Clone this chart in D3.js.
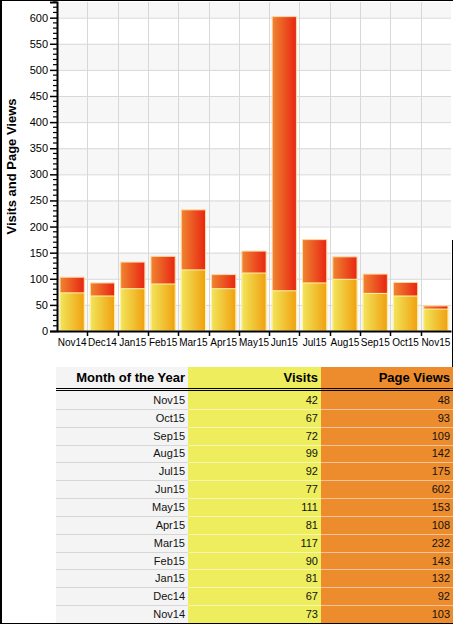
<!DOCTYPE html>
<html>
<head>
<meta charset="utf-8">
<script src="https://cdn.jsdelivr.net/npm/d3@7"></script>
<style>
  body { margin: 0; background: #fff; font-family: "Liberation Sans", Arial, sans-serif; }
  svg { display: block; }
</style>
</head>
<body>
<div id="chart"></div>
<script>
// data
const months = ["Nov14", "Dec14", "Jan15", "Feb15", "Mar15", "Apr15", "May15", "Jun15", "Jul15", "Aug15", "Sep15", "Oct15", "Nov15"];
const visits = [73, 67, 81, 90, 117, 81, 111, 77, 92, 99, 72, 67, 42];
const pageViews = [103, 92, 132, 143, 232, 108, 153, 602, 175, 142, 109, 93, 48];
const yTicks = [0, 50, 100, 150, 200, 250, 300, 350, 400, 450, 500, 550, 600];
const tableHeaders = ["Month of the Year", "Visits", "Page Views"];

const W = 453, H = 624;
const svg = d3.select("#chart").append("svg")
    .attr("width", W)
    .attr("height", H);

// plot area
const plot = { left: 57, right: 451, top: 2, bottom: 331 };

const x = d3.scaleBand()
    .domain(months)
    .range([plot.left, plot.right])
    .padding(0);

const y = d3.scaleLinear()
    .domain([0, 630])
    .range([plot.bottom, plot.top]);

// gradients for bars
const defs = svg.append("defs");
const gv = defs.append("linearGradient").attr("id", "gVisits");
gv.append("stop").attr("offset", "0%").attr("stop-color", "#f2e55a");
gv.append("stop").attr("offset", "100%").attr("stop-color", "#f0a010");
const gp = defs.append("linearGradient").attr("id", "gViews");
gp.append("stop").attr("offset", "0%").attr("stop-color", "#ef8530");
gp.append("stop").attr("offset", "100%").attr("stop-color", "#e82512");

// alternating bands
const bands = d3.range(0, 630, 50);
svg.append("g").selectAll("rect")
    .data(bands.filter((d, i) => i % 2 === 0))
    .enter().append("rect")
    .attr("x", plot.left)
    .attr("width", plot.right - plot.left)
    .attr("y", d => y(Math.min(d + 50, 630)))
    .attr("height", d => y(d) - y(Math.min(d + 50, 630)))
    .attr("fill", "#f7f7f7");

// horizontal grid
svg.append("g").selectAll("line")
    .data(yTicks)
    .enter().append("line")
    .attr("x1", plot.left).attr("x2", plot.right)
    .attr("y1", d => y(d) + 0.5).attr("y2", d => y(d) + 0.5)
    .attr("stroke", "#d8d8d8");

// vertical grid at band boundaries
svg.append("g").selectAll("line")
    .data(months.slice(1))
    .enter().append("line")
    .attr("x1", d => Math.round(x(d)) + 0.5).attr("x2", d => Math.round(x(d)) + 0.5)
    .attr("y1", plot.top).attr("y2", plot.bottom)
    .attr("stroke", "#d8d8d8");

// bars: page views behind, visits in front
const barPad = x.bandwidth() * 0.1;
svg.append("g").selectAll("rect")
    .data(months)
    .enter().append("rect")
    .attr("x", d => x(d) + barPad)
    .attr("width", x.bandwidth() - 2 * barPad)
    .attr("y", (d, i) => y(pageViews[i]))
    .attr("height", (d, i) => y(0) - y(pageViews[i]))
    .attr("fill", "url(#gViews)")
    .attr("stroke", "#ffd9a0")
    .attr("stroke-width", 1);

svg.append("g").selectAll("rect")
    .data(months)
    .enter().append("rect")
    .attr("x", d => x(d) + barPad)
    .attr("width", x.bandwidth() - 2 * barPad)
    .attr("y", (d, i) => y(visits[i]))
    .attr("height", (d, i) => y(0) - y(visits[i]))
    .attr("fill", "url(#gVisits)")
    .attr("stroke", "#fff4a8")
    .attr("stroke-width", 1);

// y axis
const yAxis = svg.append("g")
    .attr("transform", `translate(${plot.left},0)`)
    .call(d3.axisLeft(y).tickValues(yTicks).tickSize(7).tickPadding(2));
yAxis.select(".domain").attr("stroke", "#000").attr("stroke-width", 2);
yAxis.selectAll(".tick line").attr("stroke", "#000").attr("stroke-width", 1.5);
yAxis.selectAll("text")
    .style("font-family", "'Liberation Sans', Arial, sans-serif")
    .style("font-size", "11px")
    .attr("fill", "#000");

// minor ticks
svg.append("g").selectAll("line")
    .data(d3.range(0, 631, 10).filter(d => d % 50 !== 0))
    .enter().append("line")
    .attr("x1", plot.left - 4).attr("x2", plot.left)
    .attr("y1", d => y(d)).attr("y2", d => y(d))
    .attr("stroke", "#000").attr("stroke-width", 1.2);

// x axis
const xAxis = svg.append("g")
    .attr("transform", `translate(0,${plot.bottom})`)
    .call(d3.axisBottom(x).tickSize(0).tickPadding(8));
xAxis.select(".domain").attr("stroke", "#000").attr("stroke-width", 2);
xAxis.selectAll("text")
    .style("font-family", "'Liberation Sans', Arial, sans-serif")
    .style("font-size", "10px")
    .attr("fill", "#000");

// x ticks at band boundaries
svg.append("g").selectAll("line")
    .data(months.slice(1))
    .enter().append("line")
    .attr("x1", d => Math.round(x(d)) + 0.5).attr("x2", d => Math.round(x(d)) + 0.5)
    .attr("y1", plot.bottom).attr("y2", plot.bottom + 5)
    .attr("stroke", "#000").attr("stroke-width", 1.5);

// y axis title
svg.append("text")
    .attr("transform", `translate(16,${(plot.top + plot.bottom) / 2}) rotate(-90)`)
    .attr("text-anchor", "middle")
    .style("font-size", "13px")
    .style("font-weight", "bold")
    .text("Visits and Page Views");

// table
const colX = [56, 188, 321, 453];
const colFill = ["#f4f4f4", "#eded5e", "#ec8c2c"];
const colLine = ["#d6d6d6", "#f6f6b0", "#f5c49a"];
const headTop = 367, headBottom = 388;
const rowsTop = 391, rowsBottom = 623;

const tableRows = months.map((m, i) => ({ month: m, visits: visits[i], views: pageViews[i] })).reverse();
const rowScale = d3.scaleBand()
    .domain(tableRows.map(d => d.month))
    .range([rowsTop, rowsBottom]);

const tbl = svg.append("g");

// column backgrounds
tbl.selectAll("rect.col")
    .data(colFill)
    .enter().append("rect")
    .attr("class", "col")
    .attr("x", (d, i) => colX[i])
    .attr("width", (d, i) => colX[i + 1] - colX[i])
    .attr("y", headTop)
    .attr("height", rowsBottom - headTop)
    .attr("fill", d => d);

// header text
tbl.selectAll("text.head")
    .data(tableHeaders)
    .enter().append("text")
    .attr("class", "head")
    .attr("x", (d, i) => colX[i + 1] - 3)
    .attr("y", headTop + 15)
    .attr("text-anchor", "end")
    .style("font-size", "13px")
    .style("font-weight", "bold")
    .text(d => d);

// double rule under header
[headBottom, headBottom + 2].forEach(yy => {
    tbl.append("line")
        .attr("x1", colX[0]).attr("x2", colX[3])
        .attr("y1", yy + 0.5).attr("y2", yy + 0.5)
        .attr("stroke", "#000");
});

// row separators
tableRows.forEach(r => {
    const yy = Math.round(rowScale(r.month) + rowScale.bandwidth()) + 0.5;
    if (yy > rowsBottom - 1) return;
    colFill.forEach((c, i) => {
        tbl.append("line")
            .attr("x1", colX[i]).attr("x2", colX[i + 1])
            .attr("y1", yy).attr("y2", yy)
            .attr("stroke", colLine[i]);
    });
});

// cell text
const cellKeys = ["month", "visits", "views"];
cellKeys.forEach((k, i) => {
    tbl.selectAll(`text.c${i}`)
        .data(tableRows)
        .enter().append("text")
        .attr("class", `c${i}`)
        .attr("x", colX[i + 1] - 3)
        .attr("y", d => rowScale(d.month) + rowScale.bandwidth() / 2 + 4)
        .attr("text-anchor", "end")
        .style("font-size", "11px")
        .attr("fill", "#111")
        .text(d => d[k]);
});

// page border
svg.append("line").attr("x1", 1).attr("x2", 1).attr("y1", 0).attr("y2", H).attr("stroke", "#000").attr("stroke-width", 2);
svg.append("line").attr("x1", 0).attr("x2", W).attr("y1", 0.5).attr("y2", 0.5).attr("stroke", "#000");
svg.append("line").attr("x1", 0).attr("x2", W).attr("y1", H - 0.5).attr("y2", H - 0.5).attr("stroke", "#000");
svg.append("line").attr("x1", W - 0.5).attr("x2", W - 0.5).attr("y1", 240).attr("y2", headTop).attr("stroke", "#000");
</script>
</body>
</html>
